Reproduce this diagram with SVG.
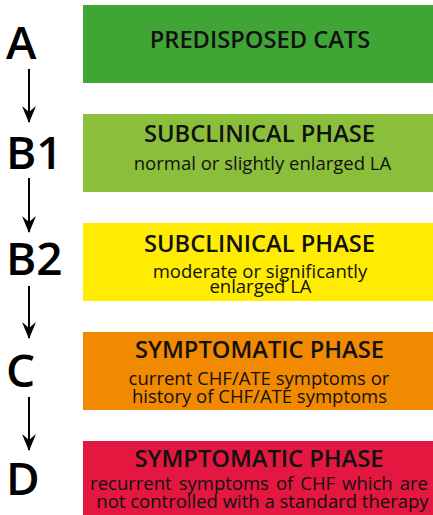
<svg xmlns="http://www.w3.org/2000/svg" width="433" height="515" viewBox="0 0 433 515">
<defs>
<style>
.stage{font-family:"Open Sans","Noto Sans",sans-serif;font-weight:600;font-size:46px;fill:#000}
.title{font-family:"Open Sans","Noto Sans",sans-serif;font-weight:600;font-size:23.7px;fill:#111;text-anchor:middle}
.sub{font-family:"Open Sans","Noto Sans",sans-serif;font-weight:400;font-size:18.5px;fill:#111;text-anchor:middle}
.conn{stroke:#000;stroke-width:2;fill:none}
</style>
<marker id="ah" viewBox="0 0 17 14" refX="16" refY="7" markerWidth="17" markerHeight="14" markerUnits="userSpaceOnUse" orient="auto">
<path d="M0,0 L17,7 L0,14 L6,7 Z" fill="#000"/>
</marker>
</defs>
<rect width="433" height="515" fill="#fff"/>
<g id="node-A">
<rect x="83" y="5" width="350" height="78" fill="#3fa535"/>
<text class="stage" x="6" y="59">A</text>
<text class="title" x="260" y="48">PREDISPOSED CATS</text>
</g>
<g id="node-B1">
<rect x="83" y="114" width="350" height="78" fill="#8bbe3a"/>
<text class="stage" x="6" y="169">B1</text>
<text class="title" x="259.5" y="142">SUBCLINICAL PHASE</text>
<text class="sub" x="262.5" y="170">normal or slightly enlarged LA</text>
</g>
<g id="node-B2">
<rect x="83" y="223" width="350" height="78" fill="#ffec00"/>
<text class="stage" x="6" y="275">B2</text>
<text class="title" x="259.5" y="252">SUBCLINICAL PHASE</text>
<text class="sub" x="260" y="278">moderate or significantly</text>
<text class="sub" x="260.5" y="293">enlarged LA</text>
</g>
<g id="node-C">
<rect x="83" y="332" width="350" height="78" fill="#f18a00"/>
<text class="stage" x="6" y="387">C</text>
<text class="title" x="259.5" y="358">SYMPTOMATIC PHASE</text>
<text class="sub" x="259" y="385">current CHF/ATE symptoms or</text>
<text class="sub" x="259.5" y="403">history of CHF/ATE symptoms</text>
</g>
<g id="node-D">
<rect x="83" y="441" width="350" height="78" fill="#e3173f"/>
<text class="stage" x="6" y="495">D</text>
<text class="title" x="259" y="467">SYMPTOMATIC PHASE</text>
<text class="sub" x="259" y="490" word-spacing="2.2">recurrent symptoms of CHF which are</text>
<text class="sub" x="262.5" y="508">not controlled with a standard therapy</text>
</g>
<g id="connectors">
<line class="conn" x1="29" y1="69" x2="29" y2="122" marker-end="url(#ah)"/>
<line class="conn" x1="29" y1="178" x2="29" y2="232" marker-end="url(#ah)"/>
<line class="conn" x1="29" y1="286" x2="29" y2="338" marker-end="url(#ah)"/>
<line class="conn" x1="29" y1="397" x2="29" y2="450" marker-end="url(#ah)"/>
</g>
</svg>
